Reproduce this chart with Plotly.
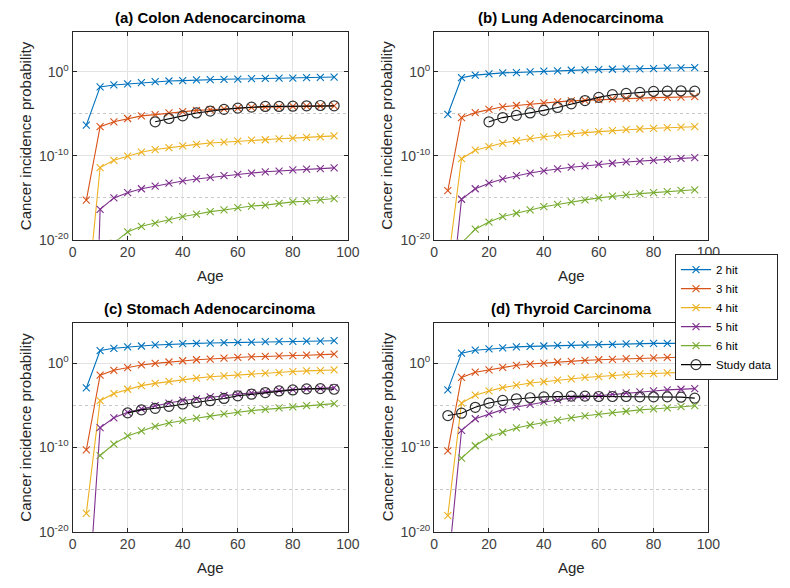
import plotly.graph_objects as go

# ---------------- data (stored as log10 of probability) ----------------
ages = [5, 10, 15, 20, 25, 30, 35, 40, 45, 50, 55, 60, 65, 70, 75, 80, 85, 90, 95]
series_names = ["2 hit", "3 hit", "4 hit", "5 hit", "6 hit"]
panel_titles = ["(a) Colon Adenocarcinoma", "(b) Lung Adenocarcinoma",
                "(c) Stomach Adenocarcinoma", "(d) Thyroid Carcinoma"]

# (a) Colon
colon_2hit = [-6.34, -1.79, -1.56, -1.44, -1.28, -1.17, -1.09, -1.05, -0.97, -0.93, -0.89, -0.86, -0.82, -0.78, -0.74, -0.74, -0.70, -0.66, -0.62]
colon_3hit = [-15.29, -6.54, -5.95, -5.56, -5.25, -5.10, -4.90, -4.75, -4.59, -4.51, -4.40, -4.32, -4.24, -4.20, -4.16, -4.12, -4.09, -4.05, -4.05]
colon_4hit = [-28.0, -11.40, -10.54, -10.04, -9.57, -9.26, -9.03, -8.83, -8.64, -8.48, -8.37, -8.25, -8.13, -8.09, -7.98, -7.90, -7.82, -7.74, -7.63]
colon_5hit = [-70.0, -16.38, -15.02, -14.40, -13.93, -13.62, -13.27, -13.00, -12.76, -12.57, -12.37, -12.22, -12.06, -11.91, -11.83, -11.67, -11.60, -11.52, -11.44]
colon_6hit = [None, None, -20.40, -19.07, -18.40, -18.02, -17.63, -17.24, -16.96, -16.65, -16.46, -16.19, -15.99, -15.88, -15.68, -15.49, -15.41, -15.25, -15.10]
colon_study = [None, None, None, None, None, -5.95, -5.56, -5.25, -4.90, -4.67, -4.47, -4.32, -4.20, -4.12, -4.12, -4.09, -4.05, -4.01, -4.05]

# (b) Lung
lung_2hit = [-5.06, -0.70, -0.39, -0.23, -0.12, -0.08, 0.00, 0.08, 0.12, 0.19, 0.23, 0.27, 0.31, 0.35, 0.35, 0.39, 0.47, 0.47, 0.51]
lung_3hit = [-14.16, -5.45, -4.86, -4.47, -4.16, -4.01, -3.85, -3.70, -3.58, -3.46, -3.39, -3.31, -3.23, -3.15, -3.11, -3.07, -3.04, -3.00, -2.96]
lung_4hit = [-23.0, -10.35, -9.34, -8.91, -8.48, -8.21, -7.94, -7.74, -7.55, -7.35, -7.24, -7.12, -7.00, -6.89, -6.81, -6.73, -6.65, -6.58, -6.54]
lung_5hit = [-30.7, -15.18, -13.93, -13.27, -12.76, -12.37, -12.06, -11.79, -11.56, -11.36, -11.21, -11.01, -10.89, -10.74, -10.66, -10.54, -10.43, -10.31, -10.23]
lung_6hit = [None, -20.40, -18.75, -17.90, -17.24, -16.85, -16.46, -16.07, -15.80, -15.49, -15.25, -15.02, -14.82, -14.67, -14.51, -14.40, -14.28, -14.12, -14.05]
lung_study = [None, None, None, -5.95, -5.45, -5.18, -4.90, -4.59, -4.24, -3.81, -3.42, -3.04, -2.72, -2.57, -2.45, -2.33, -2.30, -2.26, -2.30]

# (c) Stomach
stomach_2hit = [-2.96, 1.48, 1.75, 1.91, 2.02, 2.14, 2.22, 2.30, 2.33, 2.37, 2.41, 2.45, 2.49, 2.53, 2.57, 2.57, 2.61, 2.61, 2.65]
stomach_3hit = [-10.31, -1.44, -0.86, -0.54, -0.23, -0.04, 0.12, 0.27, 0.39, 0.47, 0.58, 0.66, 0.74, 0.78, 0.86, 0.89, 0.93, 0.97, 1.05]
stomach_4hit = [-17.82, -4.47, -3.62, -3.11, -2.68, -2.41, -2.18, -1.95, -1.79, -1.63, -1.52, -1.40, -1.28, -1.21, -1.13, -1.01, -0.93, -0.89, -0.82]
stomach_5hit = [-31.4, -7.67, -6.50, -5.84, -5.45, -5.06, -4.75, -4.44, -4.24, -4.01, -3.85, -3.70, -3.54, -3.39, -3.23, -3.15, -3.07, -3.00, -2.92]
stomach_6hit = [None, -10.97, -9.61, -8.64, -8.05, -7.51, -7.12, -6.81, -6.54, -6.30, -6.03, -5.84, -5.64, -5.49, -5.33, -5.21, -5.06, -4.94, -4.82]
stomach_study = [None, None, None, -5.91, -5.56, -5.37, -5.14, -4.86, -4.67, -4.47, -4.20, -3.89, -3.70, -3.50, -3.31, -3.19, -3.07, -3.04, -3.11]

# (d) Thyroid
thyroid_2hit = [-3.19, 1.17, 1.52, 1.67, 1.79, 1.91, 1.98, 2.02, 2.10, 2.14, 2.18, 2.22, 2.22, 2.26, 2.30, 2.33, 2.33, 2.33, 2.33]
thyroid_3hit = [-10.43, -1.71, -1.09, -0.82, -0.51, -0.27, -0.12, 0.00, 0.12, 0.19, 0.31, 0.39, 0.43, 0.51, 0.54, 0.62, 0.66, 0.70, 0.74]
thyroid_4hit = [-18.09, -4.75, -3.81, -3.31, -2.92, -2.61, -2.37, -2.22, -2.02, -1.87, -1.71, -1.60, -1.48, -1.40, -1.28, -1.25, -1.17, -1.09, -1.05]
thyroid_5hit = [-24.7, -7.98, -6.61, -6.03, -5.53, -5.21, -4.90, -4.59, -4.36, -4.16, -4.01, -3.85, -3.70, -3.54, -3.42, -3.31, -3.19, -3.11, -3.04]
thyroid_6hit = [None, -11.28, -9.81, -8.75, -8.21, -7.70, -7.35, -7.04, -6.77, -6.50, -6.26, -6.07, -5.88, -5.72, -5.56, -5.45, -5.33, -5.18, -5.06]
thyroid_study = [-6.23, -5.95, -5.25, -4.75, -4.44, -4.24, -4.12, -4.01, -3.97, -3.93, -3.93, -3.97, -3.97, -3.97, -4.01, -4.01, -4.01, -4.05, -4.16]

panels = [
    [colon_2hit, colon_3hit, colon_4hit, colon_5hit, colon_6hit, colon_study],
    [lung_2hit, lung_3hit, lung_4hit, lung_5hit, lung_6hit, lung_study],
    [stomach_2hit, stomach_3hit, stomach_4hit, stomach_5hit, stomach_6hit, stomach_study],
    [thyroid_2hit, thyroid_3hit, thyroid_4hit, thyroid_5hit, thyroid_6hit, thyroid_study],
]

x_ticks = [0, 20, 40, 60, 80, 100]
y_tick_exps = [-20, -10, 0]
y_minor_exps = [-15, -5]

# ---------------- style ----------------
colors = ["#0072BD", "#D95319", "#EDB120", "#7E2F8E", "#77AC30"]
W, H = 790, 588
FONT = "Liberation Sans, Arial, Helvetica, sans-serif"
AXC = "#262626"
TICKC = "#404040"

def to_prob(vals):
    return [None if v is None else 10.0 ** v for v in vals]

# subplot rectangles in pixels: (left, right, top, bottom)
rects = [(70, 351, 32, 243), (439, 719, 32, 243),
         (70, 351, 327, 539), (439, 719, 327, 539)]

fig = go.Figure()
for p, (rect, data) in enumerate(zip(rects, panels)):
    xa = "x" if p == 0 else f"x{p+1}"
    ya = "y" if p == 0 else f"y{p+1}"
    for s in range(5):
        fig.add_trace(go.Scatter(
            x=ages, y=to_prob(data[s]), xaxis=xa, yaxis=ya,
            mode="lines+markers", name=series_names[s],
            line=dict(color=colors[s], width=1.1),
            marker=dict(symbol="x-thin", size=7, line=dict(color=colors[s], width=1.1)),
            showlegend=(p == 0), legendrank=s, connectgaps=False,
        ))
    fig.add_trace(go.Scatter(
        x=ages, y=to_prob(data[5]), xaxis=xa, yaxis=ya,
        mode="lines+markers", name="Study data",
        line=dict(color="#000000", width=1.1),
        marker=dict(symbol="circle-open", size=10, color="#333333", line=dict(color="#333333", width=1.2)),
        showlegend=(p == 0), legendrank=5,
    ))

layout = dict(
    width=W, height=H, margin=dict(l=0, r=0, t=0, b=0),
    paper_bgcolor="white", plot_bgcolor="white",
    font=dict(family=FONT, color=AXC),
    showlegend=True,
    legend=dict(x=1.0, y=1 - 321.5 / H, xanchor="right", yanchor="middle",
                bgcolor="white", bordercolor=AXC, borderwidth=1,
                font=dict(size=11.5, family=FONT, color="#000000"),
                itemwidth=30, tracegroupgap=0),
)
annotations = []
for p, (l, r, t, b) in enumerate(rects):
    sfx = "" if p == 0 else str(p + 1)
    xdom = [l / W, r / W]
    ydom = [1 - b / H, 1 - t / H]
    layout["xaxis" + sfx] = dict(
        domain=xdom, range=[0, 100], anchor="y" + sfx,
        tickmode="array", tickvals=x_ticks, ticktext=[str(v) for v in x_ticks],
        showgrid=True, gridcolor="#e3e3e3", gridwidth=1,
        showline=True, linecolor=AXC, linewidth=1, mirror="allticks",
        ticks="inside", ticklen=4, tickcolor=AXC,
        tickfont=dict(size=14, color=TICKC, family=FONT), zeroline=False,
    )
    layout["yaxis" + sfx] = dict(
        domain=ydom, type="log", range=[-20, 4.8], anchor="x" + sfx,
        tickmode="array", tickvals=[10.0 ** e for e in y_tick_exps],
        ticktext=[f"10<sup>{e}</sup>" for e in y_tick_exps],
        showgrid=True, gridcolor="#e3e3e3", gridwidth=1,
        minor=dict(tickmode="array", tickvals=[10.0 ** e for e in y_minor_exps],
                   showgrid=True, gridcolor="#c8c8c8", griddash="dot", ticks=""),
        showline=True, linecolor=AXC, linewidth=1, mirror="allticks",
        ticks="inside", ticklen=4, tickcolor=AXC,
        tickfont=dict(size=14, color=TICKC, family=FONT), zeroline=False,
    )
    cx = (l + r) / 2 / W
    annotations.append(dict(text="<b>" + panel_titles[p] + "</b>", x=cx, y=1 - (t - 14) / H,
                            xref="paper", yref="paper", xanchor="center", yanchor="middle",
                            showarrow=False, font=dict(size=15, color="#000000", family=FONT)))
    annotations.append(dict(text="Age", x=cx, y=1 - (b + 36) / H,
                            xref="paper", yref="paper", xanchor="center", yanchor="middle",
                            showarrow=False, font=dict(size=15, color=AXC, family=FONT)))
    annotations.append(dict(text="Cancer incidence probability", x=(l - 48) / W, y=1 - (t + b) / 2 / H,
                            xref="paper", yref="paper", xanchor="center", yanchor="middle",
                            textangle=-90, showarrow=False,
                            font=dict(size=15, color=AXC, family=FONT)))
layout["annotations"] = annotations
fig.update_layout(**layout)
fig.write_html("out.html", config={"displayModeBar": False},
               post_script="document.body.style.margin='0';document.body.style.overflow='hidden';")
